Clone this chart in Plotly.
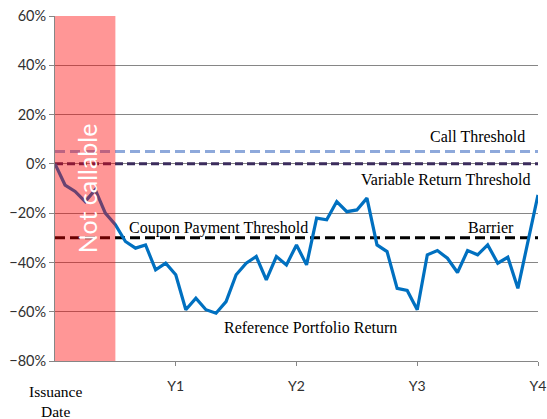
import plotly.graph_objects as go

months = list(range(49))
portfolio_return = [0, -8.6, -11.2, -15.3, -10.5, -20, -24.7, -31.5, -34.2, -32.9, -43, -40.3, -45,
                    -59.2, -54.5, -59.2, -60.6, -55.9, -45, -40.3, -37.6, -47.1, -37.6, -41, -32.9,
                    -41, -22, -22.7, -15.3, -19.4, -18.7, -13.9, -32.9, -35.6, -50.5, -51.4, -59.2,
                    -36.9, -35.2, -38.3, -44.1, -35.2, -36.9, -32.9, -40.3, -37.9, -50.5, -31, -12.6]
call_threshold = 5
variable_return_threshold = 0
barrier = -30
not_callable_end = 0.5
year_ticks = [1, 2, 3, 4]
year_labels = ["Y1", "Y2", "Y3", "Y4"]

x_years = [m / 12 for m in months]
y_vals = [v / 100 for v in portfolio_return]

fig = go.Figure()

def hline(y, color, dash):
    fig.add_trace(go.Scatter(x=[0, 4], y=[y / 100, y / 100], mode="lines",
                             line=dict(color=color, width=3, dash=dash),
                             hoverinfo="skip", showlegend=False))

hline(call_threshold, "#8EA9DB", "10px,5px")
hline(variable_return_threshold, "#3B2C5C", "8px,4px")
hline(barrier, "#000000", "10px,5px")

fig.add_trace(go.Scatter(x=x_years, y=y_vals, mode="lines",
                         line=dict(color="#0070C0", width=3.2), showlegend=False))

fig.add_shape(type="rect", xref="x", yref="y", x0=0, x1=not_callable_end, y0=-0.8, y1=0.6,
              fillcolor="rgba(255,0,0,0.41)", line=dict(width=0), layer="above")

serif = dict(family="Liberation Serif, Times New Roman, serif", size=16, color="#000000")

def ann(text, x, y, xanchor="center", font=serif, **kw):
    fig.add_annotation(text=text, x=x, y=y, xref="x", yref="y", showarrow=False,
                       xanchor=xanchor, yanchor="middle", font=font, **kw)

ann("Call Threshold", 3.91, 0.11, xanchor="right")
ann("Variable Return Threshold", 3.95, -0.065, xanchor="right")
ann("Coupon Payment Threshold", 0.6, -0.26, xanchor="left")
ann("Barrier", 3.61, -0.26)
ann("Reference Portfolio Return", 2.12, -0.665)
# Issuance Date sits below the axis: paper coordinates (plot area spans y=16..361 px)
fig.add_annotation(text="Issuance<br>Date", x=0, y=(361 - 402) / 345, xref="x", yref="paper",
                   showarrow=False, xanchor="center", yanchor="middle",
                   font=dict(family="Liberation Serif, Times New Roman, serif", size=15.5, color="#000000"),
                   align="center")
ann("Not callable", 0.265, -0.099, textangle=-90,
    font=dict(family="Lato, Open Sans, sans-serif", size=25, color="#FFFFFF"))

fig.update_layout(
    width=547, height=419,
    margin=dict(l=55, r=9, t=16, b=58, autoexpand=False),
    plot_bgcolor="white", paper_bgcolor="white",
    xaxis=dict(range=[0, 4], tickvals=year_ticks, ticktext=year_labels, automargin=False,
               showgrid=False, zeroline=False, showline=True, linecolor="#868686", linewidth=1,
               ticks="outside", ticklen=4, tickcolor="#868686",
               tickfont=dict(family="Lato, sans-serif", size=14, color="#303030"),
               ticklabelstandoff=8),
    yaxis=dict(range=[-0.8, 0.6], dtick=0.2, tickformat=".0%", automargin=False,
               showgrid=True, gridcolor="#868686", gridwidth=1, zeroline=False,
               showline=True, linecolor="#868686", linewidth=1,
               ticks="outside", ticklen=5, tickcolor="#868686",
               tickfont=dict(family="Lato, sans-serif", size=14.5, color="#303030")),
)
fig.add_shape(type="line", xref="x", yref="y", x0=0, x1=0, y0=-0.8, y1=-0.82,
              line=dict(color="#868686", width=1))

fig.write_html("out.html", config={"displayModeBar": False},
               post_script="document.body.style.margin='0px';")
